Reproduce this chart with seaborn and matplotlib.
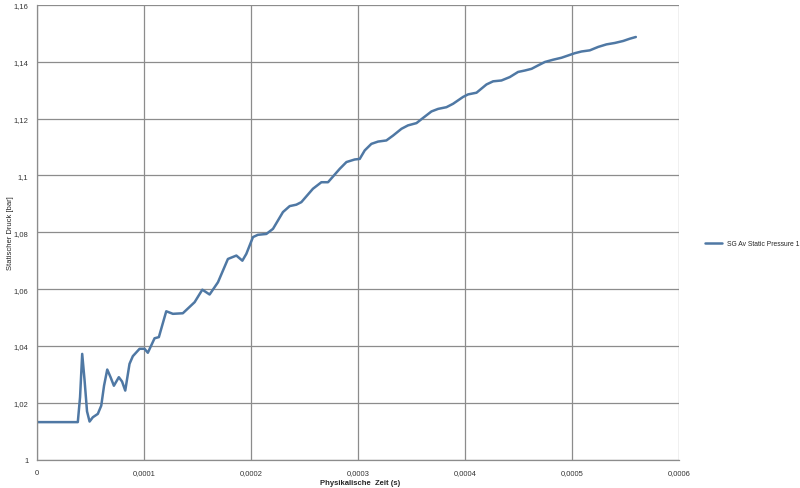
import numpy as np
import pandas as pd
import matplotlib
matplotlib.use("Agg")
import matplotlib.pyplot as plt
import seaborn as sns
from matplotlib.ticker import FuncFormatter
from matplotlib.lines import Line2D

zeit_s = [0.0, 0.0000383, 0.0000404, 0.0000424, 0.0000446, 0.0000469, 0.0000493,
          0.0000523, 0.0000570, 0.0000602, 0.0000628, 0.0000658, 0.0000689, 0.0000720,
          0.0000766, 0.0000796, 0.0000826, 0.0000866, 0.0000897, 0.0000960, 0.0001006,
          0.0001037, 0.0001100, 0.0001140, 0.0001209, 0.0001271, 0.0001364, 0.0001474,
          0.0001546, 0.0001614, 0.0001692, 0.0001785, 0.0001864, 0.0001920, 0.0001957,
          0.0002019, 0.0002065, 0.0002144, 0.0002206, 0.0002299, 0.0002362, 0.0002424,
          0.0002471, 0.0002579, 0.0002658, 0.0002720, 0.0002829, 0.0002892, 0.0002969,
          0.0003016, 0.0003063, 0.0003125, 0.0003187, 0.0003265, 0.0003327, 0.0003406,
          0.0003467, 0.0003546, 0.0003607, 0.0003686, 0.0003748, 0.0003826, 0.0003888,
          0.0003981, 0.0004028, 0.0004107, 0.0004200, 0.0004262, 0.0004340, 0.0004418,
          0.0004495, 0.0004558, 0.0004621, 0.0004682, 0.0004745, 0.0004822, 0.0004901,
          0.0004963, 0.0005025, 0.0005088, 0.0005165, 0.0005243, 0.0005321, 0.0005399,
          0.0005477, 0.0005539, 0.0005595]
druck_bar = [1.0132, 1.0132, 1.0220, 1.0372, 1.0280, 1.0170, 1.0134,
             1.0149, 1.0161, 1.0190, 1.0260, 1.0317, 1.0290, 1.0260,
             1.0290, 1.0275, 1.0243, 1.0337, 1.0364, 1.0390, 1.0390,
             1.0376, 1.0427, 1.0431, 1.0522, 1.0513, 1.0515, 1.0554,
             1.0598, 1.0581, 1.0624, 1.0706, 1.0718, 1.0700, 1.0724,
             1.0783, 1.0791, 1.0794, 1.0812, 1.0871, 1.0892, 1.0897,
             1.0906, 1.0953, 1.0976, 1.0976, 1.1023, 1.1047, 1.1056,
             1.1058, 1.1088, 1.1111, 1.1119, 1.1123, 1.1140, 1.1164,
             1.1176, 1.1184, 1.1202, 1.1225, 1.1234, 1.1240, 1.1252,
             1.1276, 1.1285, 1.1291, 1.1320, 1.1331, 1.1334, 1.1346,
             1.1364, 1.1369, 1.1375, 1.1387, 1.1399, 1.1407, 1.1414,
             1.1422, 1.1430, 1.1436, 1.1440, 1.1452, 1.1461, 1.1466,
             1.1473, 1.1481, 1.1487]
serie = "SG Av Static Pressure 1"

x_ticks = [0, 0.0001, 0.0002, 0.0003, 0.0004, 0.0005, 0.0006]
y_ticks = [1.0, 1.02, 1.04, 1.06, 1.08, 1.1, 1.12, 1.14, 1.16]

df = pd.DataFrame({"zeit": zeit_s, "druck": druck_bar})
df["serie"] = serie

sns.set_style("white")
plt.rcParams["font.family"] = ["Liberation Sans", "DejaVu Sans"]

fig = plt.figure(figsize=(8, 4.89), dpi=100)
ax = fig.add_axes([0.046, 0.058, 0.803, 0.93])

grid_col = "#8c8c8c"
linien_col = "#4f78a4"
sns.lineplot(data=df, x="zeit", y="druck", hue="serie", palette=[linien_col],
             linewidth=1.8, ax=ax, legend=False)

ax.set_xlim(0, 0.0006)
ax.set_ylim(1.0, 1.16)
ax.set_xticks(x_ticks)
ax.set_yticks(y_ticks)

def komma(v, pos):
    s = f"{v:.4f}".rstrip("0").rstrip(".")
    return s.replace(".", ",")

ax.xaxis.set_major_formatter(FuncFormatter(komma))
ax.yaxis.set_major_formatter(FuncFormatter(komma))
ax.grid(True, color=grid_col, linewidth=0.9)
ax.set_axisbelow(True)
for s in ["top", "right"]:
    ax.spines[s].set_visible(False)
for s in ["left", "bottom"]:
    ax.spines[s].set_color(grid_col)
    ax.spines[s].set_linewidth(0.9)
ax.tick_params(axis="both", direction="out", length=3, width=0.9, color=grid_col,
               labelsize=5.5, labelcolor="#333333", pad=3)
ax.tick_params(axis="x", pad=4)

ax.set_xlabel("Physikalische  Zeit (s)", fontsize=5.5, fontweight="bold")
ax.xaxis.set_label_coords(0.504, -0.05)
ax.xaxis.label.set_va("center")
ax.set_ylabel("Statischer Druck [bar]", fontsize=5.5)
ax.yaxis.set_label_coords(-0.041, 0.5)
ax.yaxis.label.set_va("center")

# Legende rechts
handle = Line2D([], [], color=linien_col, linewidth=1.8)
fig.legend([handle], [serie], loc="center left", bbox_to_anchor=(0.881, 0.5),
           frameon=False, fontsize=4.9, handlelength=2.5, handletextpad=0.7,
           borderpad=0, borderaxespad=0)

fig.savefig("out.png", dpi=100)
